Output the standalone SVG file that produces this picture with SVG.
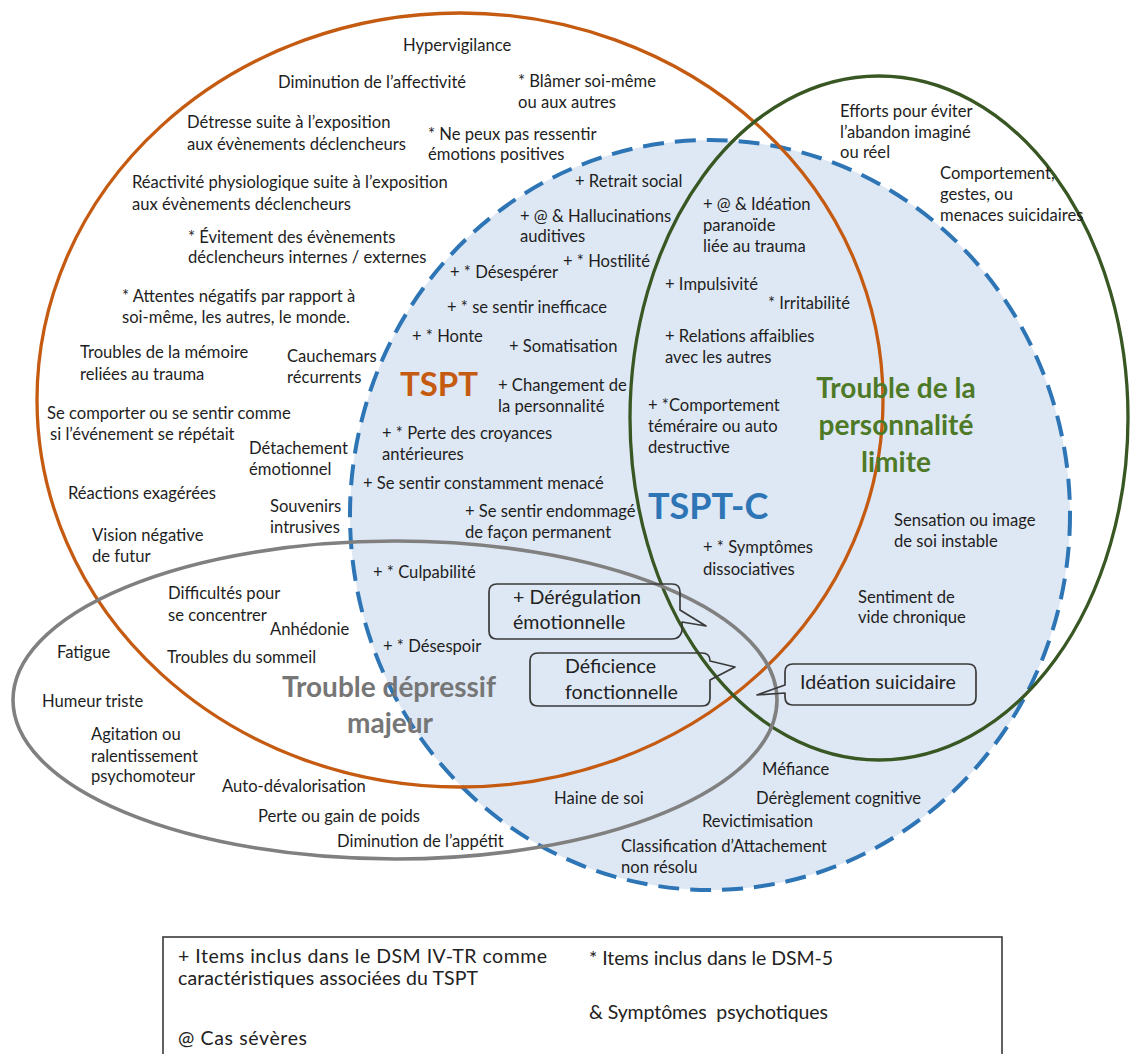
<svg xmlns="http://www.w3.org/2000/svg" width="1130" height="1054" viewBox="0 0 1130 1054">
<style>
.t{font-family:Lato,"Liberation Sans",sans-serif;font-size:16.6px;fill:#1e1e1e}
.bt{font-family:Lato,"Liberation Sans",sans-serif;font-size:19.6px;fill:#222}
.lg{font-family:Lato,"Liberation Sans",sans-serif;font-size:19.5px;fill:#222}
.ttl{font-family:Lato,"Liberation Sans",sans-serif;font-weight:bold}
.box{fill:none;stroke:#3a3a3a;stroke-width:1.7;stroke-linejoin:round}
</style>
<rect width="1130" height="1054" fill="#fff"/>
<g id="tspt-c">
<ellipse cx="710" cy="515" rx="360" ry="375" fill="#dee8f4" stroke="#2e75b6" stroke-width="4" stroke-dasharray="21 11"/>
</g>
<g id="tspt">
<ellipse cx="460" cy="400" rx="423" ry="387" fill="none" stroke="#c55a11" stroke-width="3.3"/>
</g>
<g id="tpl">
<ellipse cx="879" cy="418" rx="249" ry="342" fill="none" stroke="#385723" stroke-width="3.3"/>
</g>
<g id="tdm">
<ellipse cx="395" cy="700" rx="382" ry="159" fill="none" stroke="#808080" stroke-width="3.6"/>
</g>
<g id="connectors"></g>

<g id="titles">
<text class="ttl" x="400" y="396" font-size="33" fill="#c55a11">TSPT</text>
<text class="ttl" x="648" y="519" font-size="36" fill="#2e75b6">TSPT-C</text>
<text class="ttl" text-anchor="middle" font-size="28" fill="#4e7a27"><tspan x="896" y="398">Trouble de la</tspan><tspan x="896" y="435">personnalité</tspan><tspan x="896" y="472">limite</tspan></text>
<text class="ttl" text-anchor="middle" font-size="28" fill="#767676"><tspan x="389" y="697">Trouble dépressif</tspan><tspan x="390" y="733">majeur</tspan></text>
</g>

<g id="items-tspt">
<text class="t" x="403" y="51">Hypervigilance</text>
<text class="t" x="278" y="88">Diminution de l’affectivité</text>
<text class="t" x="518" y="87">* Blâmer soi-même</text>
<text class="t" x="518" y="108">ou aux autres</text>
<text class="t" x="187" y="128">Détresse suite à l’exposition</text>
<text class="t" x="187" y="150">aux évènements déclencheurs</text>
<text class="t" x="428" y="140">* Ne peux pas ressentir</text>
<text class="t" x="428" y="160">émotions positives</text>
<text class="t" x="132" y="188">Réactivité physiologique suite à l’exposition</text>
<text class="t" x="132" y="210">aux évènements déclencheurs</text>
<text class="t" x="188" y="243">* Évitement des évènements</text>
<text class="t" x="188" y="263">déclencheurs internes / externes</text>
<text class="t" x="122" y="302">* Attentes négatifs par rapport à</text>
<text class="t" x="122" y="323">soi-même, les autres, le monde.</text>
<text class="t" x="80" y="358">Troubles de la mémoire</text>
<text class="t" x="80" y="380">reliées au trauma</text>
<text class="t" x="287" y="362">Cauchemars</text>
<text class="t" x="287" y="383">récurrents</text>
<text class="t" x="47" y="419">Se comporter ou se sentir comme</text>
<text class="t" x="50" y="440">si l’événement se répétait</text>
<text class="t" x="249" y="454">Détachement</text>
<text class="t" x="249" y="475">émotionnel</text>
<text class="t" x="68" y="499">Réactions exagérées</text>
<text class="t" x="270" y="512">Souvenirs</text>
<text class="t" x="270" y="533">intrusives</text>
<text class="t" x="92" y="541">Vision négative</text>
<text class="t" x="92" y="562">de futur</text>
</g>

<g id="items-tsptc">
<text class="t" x="575" y="187">+ Retrait social</text>
<text class="t" x="520" y="222">+ @ &amp; Hallucinations</text>
<text class="t" x="520" y="242">auditives</text>
<text class="t" x="563" y="267">+ * Hostilité</text>
<text class="t" x="450" y="278">+ * Désespérer</text>
<text class="t" x="447" y="313">+ * se sentir inefficace</text>
<text class="t" x="412" y="342">+ * Honte</text>
<text class="t" x="509" y="352">+ Somatisation</text>
<text class="t" x="498" y="391">+ Changement de</text>
<text class="t" x="498" y="412">la personnalité</text>
<text class="t" x="382" y="439">+ * Perte des croyances</text>
<text class="t" x="382" y="460">antérieures</text>
<text class="t" x="363" y="489">+ Se sentir constamment menacé</text>
<text class="t" x="465" y="517">+ Se sentir endommagé</text>
<text class="t" x="465" y="538">de façon permanent</text>
<text class="t" x="703" y="210">+ @ &amp; Idéation</text>
<text class="t" x="703" y="231">paranoïde</text>
<text class="t" x="703" y="252">liée au trauma</text>
<text class="t" x="665" y="290">+ Impulsivité</text>
<text class="t" x="768" y="309">* Irritabilité</text>
<text class="t" x="665" y="342">+ Relations affaiblies</text>
<text class="t" x="665" y="363">avec les autres</text>
<text class="t" x="648" y="411">+ *Comportement</text>
<text class="t" x="648" y="432">téméraire ou auto</text>
<text class="t" x="648" y="453">destructive</text>
<text class="t" x="703" y="553">+ * Symptômes</text>
<text class="t" x="703" y="575">dissociatives</text>
<text class="t" x="373" y="578">+ * Culpabilité</text>
<text class="t" x="383" y="652">+ * Désespoir</text>
<text class="t" x="554" y="804">Haine de soi</text>
<text class="t" x="762" y="775">Méfiance</text>
<text class="t" x="756" y="804">Dérèglement cognitive</text>
<text class="t" x="702" y="827">Revictimisation</text>
<text class="t" x="621" y="852">Classification d’Attachement</text>
<text class="t" x="621" y="873">non résolu</text>
</g>

<g id="items-tpl">
<text class="t" x="840" y="117">Efforts pour éviter</text>
<text class="t" x="840" y="138">l’abandon imaginé</text>
<text class="t" x="840" y="158">ou réel</text>
<text class="t" x="940" y="179">Comportement,</text>
<text class="t" x="940" y="200">gestes, ou</text>
<text class="t" x="940" y="221">menaces suicidaires</text>
<text class="t" x="894" y="526">Sensation ou image</text>
<text class="t" x="894" y="547">de soi instable</text>
<text class="t" x="858" y="603">Sentiment de</text>
<text class="t" x="858" y="623">vide chronique</text>
</g>

<g id="items-tdm">
<text class="t" x="168" y="599">Difficultés pour</text>
<text class="t" x="168" y="621">se concentrer</text>
<text class="t" x="270" y="635">Anhédonie</text>
<text class="t" x="57" y="658">Fatigue</text>
<text class="t" x="167" y="663">Troubles du sommeil</text>
<text class="t" x="42" y="707">Humeur triste</text>
<text class="t" x="91" y="740">Agitation ou</text>
<text class="t" x="91" y="762">ralentissement</text>
<text class="t" x="91" y="782">psychomoteur</text>
<text class="t" x="222" y="792">Auto-dévalorisation</text>
<text class="t" x="258" y="822">Perte ou gain de poids</text>
<text class="t" x="337" y="847">Diminution de l’appétit</text>
</g>

<g id="callout-deregulation">
<path class="box" d="M497,584 H672 Q680,584 680,592 V610 L706,626 L682,622 V631 Q680,639 672,639 H497 Q489,639 489,631 V592 Q489,584 497,584 Z"/>
<text class="bt" x="513" y="604">+ Dérégulation</text>
<text class="bt" x="513" y="629">émotionnelle</text>
</g>
<g id="callout-deficience">
<path class="box" d="M538,653 H702 Q710,653 710,661 L735,667 L710,680 V698 Q710,706 702,706 H538 Q530,706 530,698 V661 Q530,653 538,653 Z"/>
<text class="bt" x="565" y="673">Déficience</text>
<text class="bt" x="565" y="699">fonctionnelle</text>
</g>
<g id="callout-ideation">
<path class="box" d="M793,664 H968 Q976,664 976,672 V697 Q976,705 968,705 H793 Q785,705 785,697 V693 L757,695 L785,685 V672 Q785,664 793,664 Z"/>
<text class="bt" x="800" y="689">Idéation suicidaire</text>
</g>

<g id="legend">
<rect x="163" y="937" width="839" height="130" fill="#fff" stroke="#3a3a3a" stroke-width="1.6"/>
<text class="lg" x="178" y="963" textLength="369">+ Items inclus dans le DSM IV-TR comme</text>
<text class="lg" x="178" y="985" textLength="300">caractéristiques associées du TSPT</text>
<text class="lg" x="178" y="1045" textLength="129">@ Cas sévères</text>
<text class="lg" x="589" y="965" textLength="244">* Items inclus dans le DSM-5</text>
<text class="lg" x="589" y="1019" textLength="239" xml:space="preserve">&amp; Symptômes  psychotiques</text>
</g>
</svg>
